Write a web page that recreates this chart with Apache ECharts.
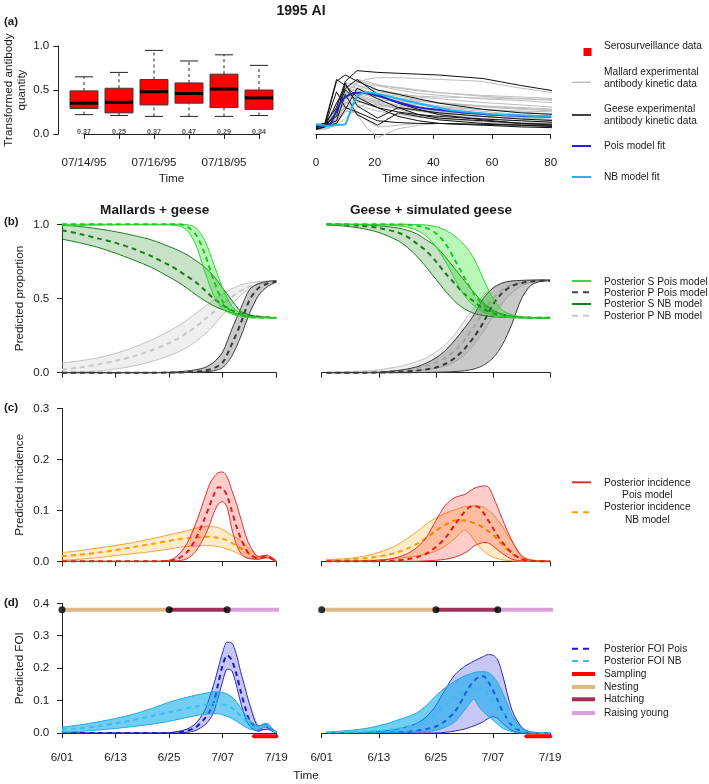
<!DOCTYPE html>
<html><head><meta charset="utf-8">
<script src="https://cdn.jsdelivr.net/npm/echarts@6.0.0/dist/echarts.min.js"></script>
<style>html,body{margin:0;padding:0;background:#fff}#c{width:709px;height:784px}</style>
</head><body><div id="c"></div>
<script>
// ---------------- DATA ----------------
const titleText = '1995 AI';
// (a) serosurveillance boxplots
const boxDates = ['07/14/95','07/15/95','07/16/95','07/17/95','07/18/95','07/19/95'];
const boxLow  = [0.22,0.21,0.20,0.20,0.20,0.21];
const boxQ1   = [0.29,0.24,0.33,0.35,0.30,0.28];
const boxMed  = [0.35,0.36,0.48,0.46,0.51,0.41];
const boxQ3   = [0.49,0.52,0.62,0.58,0.68,0.50];
const boxHigh = [0.65,0.70,0.95,0.83,0.90,0.78];
const boxNote = ['0.37','0.25','0.37','0.47','0.29','0.34'];
const outlierBox = [0,5];
const outlierVal = [0.86,0.90];
// (a) antibody kinetics
const mallardT = [0,4,7,10,14,17,21,28,35,42,56,70,83];
const mallardLines = [
 [0.08,0.10,0.30,0.50,0.55,0.52,0.50,0.46,0.42,0.40,0.36,0.33,0.30],
 [0.06,0.08,0.20,0.42,0.48,0.45,0.42,0.38,0.35,0.32,0.28,0.25,0.22],
 [0.10,0.12,0.28,0.45,0.60,0.58,0.55,0.50,0.46,0.44,0.40,0.38,0.35],
 [0.05,0.07,0.15,0.35,0.45,0.42,0.38,0.32,0.28,0.26,0.22,0.19,0.16],
 [0.09,0.11,0.25,0.40,0.42,0.40,0.36,0.30,0.26,0.22,0.18,0.15,0.13],
 [0.07,0.09,0.22,0.48,0.58,0.62,0.64,0.64,0.63,0.62,0.60,0.52,0.46],
 [0.08,0.10,0.35,0.55,0.52,0.48,0.43,0.38,0.34,0.30,0.26,0.22,0.20],
 [0.06,0.08,0.12,0.25,0.38,0.40,0.37,0.33,0.30,0.27,0.24,0.21,0.18],
 [0.11,0.12,0.30,0.52,0.50,0.46,0.44,0.40,0.37,0.35,0.32,0.30,0.28],
 [0.05,0.06,0.10,0.18,0.30,0.34,0.33,0.30,0.27,0.24,0.20,0.17,0.15],
 [0.09,0.10,0.28,0.46,0.44,0.40,0.35,0.28,0.22,0.18,0.14,0.11,0.10],
 [0.07,0.09,0.18,0.38,0.50,0.54,0.55,0.53,0.50,0.47,0.43,0.40,0.38],
 [0.08,0.07,0.14,0.32,0.22,0.08,-0.04,0.06,0.10,0.12,0.11,0.10,0.09],
 [0.10,0.11,0.26,0.40,0.46,0.44,0.40,0.36,0.33,0.31,0.28,0.26,0.25],
 [0.06,0.08,0.20,0.30,0.36,0.35,0.32,0.29,0.27,0.25,0.23,0.21,0.19],
 [0.07,0.10,0.32,0.58,0.56,0.52,0.48,0.45,0.43,0.42,0.41,0.40,0.39],
 [0.05,0.06,0.12,0.28,0.42,0.46,0.46,0.43,0.39,0.36,0.32,0.29,0.27],
 [0.09,0.10,0.24,0.36,0.34,0.30,0.26,0.22,0.19,0.17,0.15,0.13,0.12],
 [0.08,0.09,0.22,0.44,0.52,0.49,0.45,0.41,0.38,0.35,0.31,0.28,0.26],
 [0.06,0.08,0.16,0.34,0.40,0.38,0.34,0.30,0.26,0.23,0.20,0.18,0.16],
 [0.10,0.12,0.30,0.50,0.62,0.60,0.56,0.52,0.49,0.47,0.44,0.42,0.40],
 [0.07,0.08,0.18,0.26,0.24,0.16,0.08,0.10,0.12,0.12,0.10,0.09,0.08]
];
const geeseT = [0,3,7,10,14,21,28,35,42,57,70,83];
const geeseLines = [
 [0.08,0.12,0.30,0.60,0.72,0.70,0.69,0.68,0.67,0.63,0.55,0.48],
 [0.07,0.10,0.60,0.67,0.60,0.50,0.45,0.40,0.35,0.28,0.24,0.22],
 [0.10,0.12,0.62,0.55,0.42,0.30,0.25,0.22,0.20,0.17,0.15,0.13],
 [0.06,0.08,0.35,0.52,0.62,0.45,0.35,0.28,0.22,0.16,0.12,0.10],
 [0.09,0.10,0.15,0.45,0.22,0.10,0.24,0.20,0.16,0.12,0.10,0.08],
 [0.05,0.08,0.25,0.50,0.38,0.30,0.20,0.15,0.12,0.10,0.08,0.07],
 [0.08,0.09,0.48,0.30,0.25,0.15,0.13,0.12,0.12,0.11,0.10,0.10],
 [0.07,0.11,0.20,0.58,0.32,0.18,0.30,0.27,0.24,0.20,0.17,0.15],
 [0.10,0.09,0.12,0.28,0.52,0.40,0.30,0.22,0.18,0.15,0.12,0.11]
];
const poisFitT = [0,3,5,7,9,11,13,15,18,23,28,34,40,50,60,70,80];
const poisFitV = [0.10,0.09,0.12,0.27,0.39,0.44,0.465,0.47,0.46,0.415,0.36,0.31,0.28,0.245,0.22,0.205,0.195];
const nbFitT = [0,2,4,6,10,12,14,16,18,22,28,34,40,46,52,60,70,80];
const nbFitV = [0.11,0.10,0.09,0.10,0.11,0.28,0.43,0.47,0.475,0.45,0.40,0.355,0.31,0.27,0.25,0.225,0.21,0.20];

// (b) predicted proportions, left (Mallards + geese)
const bLeftDay = [0,4,8,12,16,20,24,26,28,30,32,34,36,38,40,42,44,46,48];
const bL_SPois_mid = [1,1,1,1,1,1,1,1,0.985,0.93,0.80,0.62,0.48,0.41,0.385,0.375,0.372,0.37,0.37];
const bL_SPois_lo  = [0.99,0.993,0.995,0.996,0.997,0.997,0.996,0.99,0.96,0.86,0.68,0.52,0.43,0.395,0.38,0.373,0.37,0.37,0.37];
const bL_SPois_hi  = [1,1,1,1,1,1,1,1,0.997,0.975,0.89,0.73,0.57,0.45,0.40,0.38,0.373,0.371,0.37];
const bL_SNB_mid = [0.96,0.935,0.905,0.875,0.835,0.785,0.725,0.69,0.65,0.61,0.555,0.50,0.455,0.42,0.40,0.385,0.378,0.373,0.37];
const bL_SNB_hi  = [0.995,0.985,0.97,0.95,0.925,0.895,0.85,0.825,0.795,0.755,0.71,0.65,0.57,0.49,0.415,0.39,0.378,0.373,0.37];
const bL_SNB_lo  = [0.90,0.875,0.845,0.805,0.76,0.71,0.645,0.61,0.57,0.525,0.485,0.45,0.425,0.405,0.39,0.38,0.375,0.372,0.37];
const bL_PPois_mid = [0,0,0,0,0,0,0.001,0.002,0.004,0.008,0.015,0.03,0.07,0.19,0.33,0.49,0.57,0.60,0.615];
const bL_PPois_lo  = [0,0,0,0,0,0,0,0,0.001,0.003,0.006,0.013,0.035,0.11,0.24,0.40,0.52,0.58,0.61];
const bL_PPois_hi  = [0,0,0,0,0,0,0.003,0.006,0.012,0.02,0.035,0.07,0.14,0.29,0.43,0.56,0.60,0.615,0.62];
const bL_PNB_mid = [0.02,0.035,0.055,0.08,0.11,0.15,0.20,0.23,0.27,0.31,0.36,0.41,0.46,0.51,0.55,0.58,0.60,0.61,0.62];
const bL_PNB_hi  = [0.065,0.08,0.10,0.13,0.17,0.22,0.28,0.315,0.355,0.40,0.445,0.49,0.53,0.565,0.59,0.605,0.613,0.618,0.62];
const bL_PNB_lo  = [0,0.005,0.012,0.025,0.045,0.075,0.115,0.14,0.17,0.21,0.26,0.32,0.39,0.46,0.52,0.565,0.595,0.61,0.618];
// (b) right (Geese + simulated geese)
const bRightDay = [1,4,8,12,16,18,20,22,24,26,28,30,32,34,36,38,40,42,44,46,48];
const bR_SNB_mid = [1,0.998,0.99,0.975,0.945,0.915,0.87,0.82,0.75,0.67,0.60,0.53,0.48,0.43,0.40,0.385,0.377,0.373,0.371,0.37,0.37];
const bR_SNB_hi  = [1,1,0.998,0.99,0.975,0.96,0.935,0.895,0.85,0.78,0.70,0.62,0.54,0.47,0.42,0.395,0.38,0.374,0.371,0.37,0.37];
const bR_SNB_lo  = [0.995,0.99,0.975,0.945,0.89,0.845,0.785,0.71,0.63,0.55,0.48,0.43,0.40,0.385,0.377,0.373,0.371,0.37,0.37,0.37,0.37];
const bR_SPois_mid = [1,1,1,1,0.999,0.997,0.99,0.975,0.94,0.87,0.76,0.64,0.53,0.455,0.41,0.39,0.378,0.373,0.371,0.37,0.37];
const bR_SPois_hi  = [1,1,1,1,1,1,0.998,0.995,0.985,0.96,0.92,0.86,0.77,0.63,0.50,0.42,0.39,0.377,0.372,0.37,0.37];
const bR_SPois_lo  = [1,1,0.999,0.997,0.99,0.98,0.96,0.92,0.85,0.75,0.63,0.52,0.45,0.41,0.385,0.375,0.372,0.37,0.37,0.37,0.37];
const bR_PPois_mid = [0,0,0,0.001,0.005,0.009,0.014,0.022,0.035,0.06,0.10,0.16,0.24,0.34,0.46,0.54,0.585,0.605,0.615,0.62,0.62];
const bR_PPois_hi  = [0,0,0.001,0.004,0.015,0.025,0.04,0.065,0.10,0.15,0.22,0.30,0.39,0.50,0.57,0.605,0.618,0.622,0.624,0.625,0.625];
const bR_PPois_lo  = [0,0,0,0,0,0,0.001,0.002,0.003,0.005,0.008,0.013,0.025,0.05,0.10,0.19,0.33,0.50,0.59,0.615,0.62];
const bR_PNB_mid = [0,0.001,0.003,0.007,0.015,0.022,0.032,0.047,0.068,0.10,0.15,0.22,0.31,0.41,0.50,0.56,0.595,0.61,0.618,0.62,0.622];
const bR_PNB_hi  = [0.002,0.005,0.01,0.02,0.04,0.055,0.075,0.10,0.14,0.19,0.26,0.35,0.44,0.52,0.575,0.605,0.618,0.622,0.624,0.625,0.625];
const bR_PNB_lo  = [0,0,0,0.002,0.005,0.008,0.013,0.02,0.03,0.047,0.075,0.12,0.19,0.28,0.38,0.47,0.54,0.585,0.61,0.618,0.62];

// (c) predicted incidence
const cLeftDay = [0,4,8,12,16,20,24,26,28,30,32,33,34,35,36,37,38,39,40,41,42,44,45,46,47,48];
const cL_Pois_mid = [0,0,0,0,0,0,0.001,0.005,0.018,0.045,0.085,0.108,0.13,0.145,0.143,0.128,0.10,0.07,0.046,0.027,0.014,0.006,0.008,0.009,0.005,0];
const cL_Pois_hi  = [0,0,0,0,0,0,0.002,0.012,0.035,0.075,0.125,0.15,0.165,0.174,0.175,0.165,0.14,0.115,0.085,0.055,0.032,0.009,0.011,0.012,0.007,0.001];
const cL_Pois_lo  = [0,0,0,0,0,0,0,0.001,0.005,0.02,0.05,0.07,0.095,0.112,0.117,0.105,0.065,0.035,0.016,0.008,0.005,0.004,0.006,0.007,0.004,0];
const cL_NB_mid = [0.010,0.013,0.017,0.022,0.028,0.034,0.040,0.043,0.045,0.047,0.048,0.048,0.047,0.046,0.044,0.041,0.036,0.031,0.026,0.02,0.014,0.006,0.008,0.009,0.005,0];
const cL_NB_hi  = [0.017,0.021,0.026,0.031,0.037,0.044,0.052,0.056,0.060,0.065,0.068,0.069,0.068,0.066,0.062,0.057,0.051,0.046,0.041,0.033,0.024,0.01,0.011,0.012,0.007,0.002];
const cL_NB_lo  = [0.002,0.004,0.007,0.011,0.015,0.019,0.024,0.027,0.029,0.030,0.031,0.031,0.030,0.029,0.027,0.024,0.021,0.017,0.013,0.009,0.006,0.004,0.006,0.007,0.004,0];
const cRightDay = [1,6,10,14,16,18,20,22,24,26,28,30,31,32,33,34,35,36,37,38,40,42,44,48];
const cR_Pois_mid = [0,0,0,0.001,0.002,0.004,0.008,0.015,0.028,0.046,0.072,0.097,0.106,0.108,0.106,0.095,0.08,0.065,0.05,0.037,0.016,0.004,0.001,0];
const cR_Pois_hi  = [0,0,0.001,0.004,0.008,0.015,0.027,0.047,0.08,0.11,0.125,0.131,0.137,0.143,0.146,0.148,0.146,0.128,0.105,0.082,0.04,0.01,0.002,0];
const cR_Pois_lo  = [0,0,0,0,0,0,0,0.001,0.002,0.004,0.008,0.016,0.022,0.03,0.034,0.037,0.036,0.03,0.022,0.015,0.004,0.001,0,0];
const cR_NB_mid = [0.002,0.004,0.007,0.013,0.018,0.025,0.034,0.046,0.06,0.072,0.08,0.08,0.078,0.075,0.071,0.066,0.059,0.052,0.043,0.033,0.015,0.005,0.001,0];
const cR_NB_hi  = [0.003,0.006,0.012,0.024,0.033,0.045,0.058,0.073,0.085,0.094,0.101,0.107,0.108,0.109,0.108,0.106,0.1,0.092,0.08,0.068,0.038,0.012,0.003,0];
const cR_NB_lo  = [0.001,0.001,0.002,0.004,0.006,0.008,0.011,0.014,0.02,0.03,0.045,0.061,0.055,0.042,0.03,0.02,0.013,0.008,0.005,0.003,0.001,0,0,0];

// (d) predicted force of infection
const dLeftDay = [0,4,8,12,16,20,24,26,28,30,32,33,34,35,36,37,38,39,40,41,42,44,45,46,47,48];
const dL_Pois_mid = [0,0,0,0,0,0,0,0.002,0.007,0.018,0.045,0.065,0.095,0.153,0.21,0.24,0.225,0.185,0.13,0.08,0.04,0.01,0.015,0.018,0.01,0.002];
const dL_Pois_hi  = [0,0,0,0,0,0,0.001,0.005,0.012,0.03,0.07,0.108,0.15,0.2,0.25,0.28,0.278,0.245,0.19,0.14,0.09,0.022,0.025,0.026,0.013,0.003];
const dL_Pois_lo  = [0,0,0,0,0,0,0,0,0.002,0.008,0.025,0.04,0.065,0.11,0.16,0.197,0.193,0.15,0.095,0.05,0.022,0.005,0.01,0.011,0.006,0];
const dL_NB_mid = [0.01,0.015,0.021,0.03,0.04,0.052,0.064,0.07,0.076,0.082,0.087,0.089,0.09,0.09,0.088,0.084,0.077,0.066,0.053,0.039,0.026,0.013,0.022,0.024,0.012,0.002];
const dL_NB_hi  = [0.018,0.025,0.034,0.045,0.058,0.075,0.095,0.103,0.11,0.117,0.122,0.125,0.127,0.127,0.125,0.12,0.112,0.097,0.078,0.058,0.04,0.02,0.028,0.03,0.015,0.003];
const dL_NB_lo  = [0.002,0.005,0.009,0.014,0.02,0.027,0.036,0.042,0.048,0.054,0.058,0.059,0.06,0.059,0.056,0.051,0.045,0.037,0.028,0.02,0.012,0.008,0.016,0.018,0.009,0];
const dRightDay = [1,6,10,14,16,18,20,22,24,26,28,30,31,32,33,34,35,36,37,38,40,42,44,48];
const dR_Pois_mid = [0,0,0,0.001,0.002,0.004,0.007,0.012,0.02,0.038,0.066,0.116,0.142,0.16,0.173,0.175,0.158,0.132,0.1,0.068,0.023,0.006,0.001,0];
const dR_Pois_hi  = [0,0,0.003,0.008,0.012,0.02,0.03,0.05,0.085,0.135,0.18,0.205,0.214,0.222,0.229,0.236,0.242,0.24,0.225,0.18,0.07,0.018,0.003,0];
const dR_Pois_lo  = [0,0,0,0,0,0,0,0,0,0.002,0.006,0.012,0.017,0.022,0.028,0.035,0.045,0.05,0.045,0.03,0.008,0.001,0,0];
const dR_NB_mid = [0.002,0.003,0.005,0.009,0.013,0.019,0.027,0.04,0.06,0.088,0.112,0.13,0.135,0.138,0.138,0.13,0.118,0.098,0.078,0.062,0.028,0.008,0.002,0];
const dR_NB_hi  = [0.003,0.008,0.016,0.03,0.04,0.05,0.062,0.085,0.115,0.14,0.16,0.176,0.181,0.186,0.189,0.189,0.187,0.175,0.155,0.125,0.055,0.015,0.003,0];
const dR_NB_lo  = [0.001,0.001,0.001,0.002,0.002,0.003,0.004,0.005,0.008,0.018,0.035,0.07,0.09,0.105,0.082,0.065,0.052,0.04,0.027,0.015,0.004,0,0,0];
// phases & sampling
const phaseNames = ['Nesting','Hatching','Raising young'];
const phaseStart = [0,24,37];
const phaseEnd   = [24,37,50];
const phaseLevel = 0.38;
const samplingDays = [43,48];
const samplingLevel = -0.01;
const dateTicks = ['6/01','6/13','6/25','7/07','7/19'];

// ---------------- CHART ----------------
const FONT = '"Liberation Sans", Arial, Helvetica, sans-serif';
const AX = '#222', TXT = '#1a1a1a';
const chart = echarts.init(document.getElementById('c'), null, {renderer:'canvas', width:709, height:784});

const LX = 62, LW = 214.3, RX = 321.7, RW = 228.4;
const grids = [
 {left:84, top:46, width:175, height:88},
 {left:316, top:46, width:234.7, height:88},
 {left:LX, top:224.3, width:LW, height:148.4},
 {left:RX, top:224.3, width:RW, height:148.4},
 {left:LX, top:408.3, width:LW, height:153},
 {left:RX, top:408.3, width:RW, height:153},
 {left:LX, top:603.3, width:LW, height:129.7},
 {left:RX, top:603.3, width:RW, height:129.7}
].map(g => Object.assign({show:false, containLabel:false, outerBoundsMode:'none'}, g));

const aLine = {show:true, lineStyle:{color:AX, width:1}};
const aTick = {show:true, inside:false, length:5, lineStyle:{color:AX, width:1}};
const aLbl = {show:true, color:TXT, fontSize:11.6, fontFamily:FONT, margin:9};
const noSplit = {show:false};

function dayAxis(gi, offset, labels) {
  return {gridIndex:gi, type:'value', min:0, max:48, interval:12, offset:offset,
    axisLine:aLine, axisTick:aTick, splitLine:noSplit,
    axisLabel: labels ? Object.assign({}, aLbl, {formatter: v => dateTicks[Math.round(v/12)]}) : {show:false}};
}
function valAxis(gi, max, interval, offset, show) {
  if (!show) return {gridIndex:gi, type:'value', min:0, max:max, show:false, splitLine:noSplit};
  return {gridIndex:gi, type:'value', min:0, max:max, interval:interval, offset:offset,
    axisLine:aLine, axisTick:aTick, splitLine:noSplit,
    axisLabel:Object.assign({}, aLbl, {formatter: v => v.toFixed(1)})};
}
const xAxes = [
 {gridIndex:0, type:'category', data:boxDates, boundaryGap:false, offset:13.3,
  axisLine:aLine, axisTick:Object.assign({}, aTick, {interval:0}), splitLine:noSplit,
  axisLabel:Object.assign({}, aLbl, {interval:1, margin:9})},
 {gridIndex:1, type:'value', min:0, max:80, interval:20, offset:14.3,
  axisLine:aLine, axisTick:aTick, splitLine:noSplit, axisLabel:Object.assign({}, aLbl, {margin:8})},
 dayAxis(2, 6.6, false), dayAxis(3, 6.6, false),
 dayAxis(4, 7.7, false), dayAxis(5, 7.7, false),
 dayAxis(6, 9.7, true), dayAxis(7, 9.7, true)
];
const yAxes = [
 valAxis(0, 1, 0.5, 25.7, true), valAxis(1, 1, 0.5, 0, false),
 valAxis(2, 1, 0.5, 3.7, true), valAxis(3, 1, 0.5, 0, false),
 valAxis(4, 0.3, 0.1, 3.7, true), valAxis(5, 0.3, 0.1, 0, false),
 valAxis(6, 0.4, 0.1, 3.7, true), valAxis(7, 0.4, 0.1, 0, false)
];

const series = [];
function zip(xs, ys) { return xs.map((x, i) => [x, ys[i]]); }
function lineS(gi, xs, ys, color, width, type, z, smooth) {
  return {type:'line', xAxisIndex:gi, yAxisIndex:gi, data:zip(xs, ys), symbol:'none', showSymbol:false,
    smooth: smooth === undefined ? 0.3 : smooth, clip:false, silent:true, z:z, animation:false,
    lineStyle:{color:color, width:width, type:type, cap:'butt'}};
}
function band(gi, day, lo, mid, hi, edge, fill, midCol, z) {
  series.push({type:'custom', xAxisIndex:gi, yAxisIndex:gi, coordinateSystem:'cartesian2d', silent:true, z:z,
    clip:false, animation:false, data:zip(day, lo), encode:{x:0, y:1},
    renderItem: function (params, api) {
      if (params.dataIndex !== 0) return null;
      const pts = [];
      for (let i = 0; i < day.length; i++) pts.push(api.coord([day[i], lo[i]]));
      for (let i = day.length - 1; i >= 0; i--) pts.push(api.coord([day[i], hi[i]]));
      return {type:'polygon', shape:{points:pts}, style:{fill:fill, stroke:null}};
    }});
  series.push(lineS(gi, day, lo, edge, 1, 'solid', z + 1));
  series.push(lineS(gi, day, hi, edge, 1, 'solid', z + 1));
  series.push(lineS(gi, day, mid, midCol, 2, [5, 4], z + 2));
}

// (a) boxplots
series.push({type:'custom', xAxisIndex:0, yAxisIndex:0, coordinateSystem:'cartesian2d', z:5, silent:true, clip:false,
  data: boxDates.map((d, i) => [i, boxLow[i], boxQ1[i], boxMed[i], boxQ3[i], boxHigh[i]]),
  encode:{x:0, y:[1,2,3,4,5]},
  renderItem: function (params, api) {
    const i = api.value(0);
    const pL = api.coord([i, api.value(1)]), p1 = api.coord([i, api.value(2)]), pM = api.coord([i, api.value(3)]),
          p3 = api.coord([i, api.value(4)]), pH = api.coord([i, api.value(5)]);
    const cx = pL[0], hw = 14, cw = 9;
    const ws = {stroke:'#222', lineWidth:1, lineDash:[3, 3]};
    const cs = {stroke:'#222', lineWidth:1};
    return {type:'group', children:[
      {type:'line', shape:{x1:cx, y1:p3[1], x2:cx, y2:pH[1]}, style:ws},
      {type:'line', shape:{x1:cx, y1:pL[1], x2:cx, y2:p1[1]}, style:ws},
      {type:'line', shape:{x1:cx - cw, y1:pH[1], x2:cx + cw, y2:pH[1]}, style:cs},
      {type:'line', shape:{x1:cx - cw, y1:pL[1], x2:cx + cw, y2:pL[1]}, style:cs},
      {type:'rect', shape:{x:cx - hw, y:p3[1], width:2 * hw, height:p1[1] - p3[1]}, style:{fill:'#ff0000', stroke:'#3a3a3a', lineWidth:1}},
      {type:'line', shape:{x1:cx - hw, y1:pM[1], x2:cx + hw, y2:pM[1]}, style:{stroke:'#000', lineWidth:3}}
    ]};
  }});
series.push({type:'scatter', xAxisIndex:0, yAxisIndex:0, silent:true, z:6, symbol:'emptyCircle', symbolSize:5,
  itemStyle:{color:'#fff', borderColor:'#333', borderWidth:1},
  data: outlierBox.map((b, i) => [b, outlierVal[i]])});
series.push({type:'scatter', xAxisIndex:0, yAxisIndex:0, silent:true, z:6, symbolSize:0,
  data: boxNote.map((t, i) => [i, 0.02]),
  label:{show:true, position:'inside', formatter: p => boxNote[p.dataIndex], fontSize:7.2, fontWeight:'bold', color:'#222', fontFamily:FONT}});

// (a) kinetics
mallardLines.forEach(v => series.push(lineS(1, mallardT, v, '#bdbdbd', 1, 'solid', 2, false)));
geeseLines.forEach(v => series.push(lineS(1, geeseT, v, '#111', 1, 'solid', 3, false)));
series.push(lineS(1, poisFitT, poisFitV, '#2424c8', 2, 'solid', 4, 0.2));
series.push(lineS(1, nbFitT, nbFitV, '#22b4ea', 2, 'solid', 5, 0.1));

// (b)
const cPNBfill = 'rgba(190,190,190,0.25)', cPPoisFill = 'rgba(90,90,90,0.33)';
const cSNBfill = 'rgba(34,139,34,0.25)', cSPoisFill = 'rgba(0,225,0,0.28)';
band(2, bLeftDay, bL_PNB_lo, bL_PNB_mid, bL_PNB_hi, '#c2c2c2', cPNBfill, '#c8c8c8', 10);
band(2, bLeftDay, bL_PPois_lo, bL_PPois_mid, bL_PPois_hi, '#3c3c3c', cPPoisFill, '#3a3a3a', 14);
band(2, bLeftDay, bL_SNB_lo, bL_SNB_mid, bL_SNB_hi, '#1e7a1e', cSNBfill, '#1e7a1e', 18);
band(2, bLeftDay, bL_SPois_lo, bL_SPois_mid, bL_SPois_hi, '#2fd22f', cSPoisFill, '#22c622', 22);
band(3, bRightDay, bR_PNB_lo, bR_PNB_mid, bR_PNB_hi, '#c2c2c2', cPNBfill, '#c8c8c8', 10);
band(3, bRightDay, bR_PPois_lo, bR_PPois_mid, bR_PPois_hi, '#3c3c3c', cPPoisFill, '#3a3a3a', 14);
band(3, bRightDay, bR_SNB_lo, bR_SNB_mid, bR_SNB_hi, '#1e7a1e', cSNBfill, '#1e7a1e', 18);
band(3, bRightDay, bR_SPois_lo, bR_SPois_mid, bR_SPois_hi, '#2fd22f', cSPoisFill, '#22c622', 22);

// (c)
const cRedFill = 'rgba(255,0,0,0.2)', cOrFill = 'rgba(255,165,0,0.22)';
band(4, cLeftDay, cL_NB_lo, cL_NB_mid, cL_NB_hi, '#f0a640', cOrFill, '#ffa000', 10);
band(4, cLeftDay, cL_Pois_lo, cL_Pois_mid, cL_Pois_hi, '#e03030', cRedFill, '#e41a1c', 14);
band(5, cRightDay, cR_NB_lo, cR_NB_mid, cR_NB_hi, '#f0a640', cOrFill, '#ffa000', 10);
band(5, cRightDay, cR_Pois_lo, cR_Pois_mid, cR_Pois_hi, '#e03030', cRedFill, '#e41a1c', 14);

// (d)
const cPoisFill = 'rgba(70,70,225,0.3)', cNBfill = 'rgba(0,165,235,0.55)';
band(6, dLeftDay, dL_Pois_lo, dL_Pois_mid, dL_Pois_hi, '#2a2ab4', cPoisFill, '#1a1acc', 10);
band(6, dLeftDay, dL_NB_lo, dL_NB_mid, dL_NB_hi, '#1ea8e6', cNBfill, '#38bff0', 14);
band(7, dRightDay, dR_Pois_lo, dR_Pois_mid, dR_Pois_hi, '#2a2ab4', cPoisFill, '#1a1acc', 10);
band(7, dRightDay, dR_NB_lo, dR_NB_mid, dR_NB_hi, '#1ea8e6', cNBfill, '#38bff0', 14);
const phaseColors = ['#deb887', '#a0305a', '#dda0dd'];
[6, 7].forEach(gi => {
  phaseNames.forEach((n, k) => {
    const s = lineS(gi, [phaseStart[k], phaseEnd[k]], [phaseLevel, phaseLevel], phaseColors[k], 4, 'solid', 30, false);
    series.push(s);
  });
  series.push({type:'scatter', xAxisIndex:gi, yAxisIndex:gi, silent:true, z:31, symbolSize:7, clip:false,
    itemStyle:{color:'#000'}, data: phaseStart.map(d => [d, phaseLevel])});
  const sp = lineS(gi, samplingDays, [samplingLevel, samplingLevel], '#ff0000', 4, 'solid', 30, false);
  sp.lineStyle.cap = 'round';
  series.push(sp);
});

// ---------------- TEXT & LEGENDS ----------------
function gText(x, y, text, o) {
  return {type:'text', x:x, y:y, silent:true, z:100, rotation:(o && o.rot) || 0,
    style:{text:text, fill:TXT, font:((o && o.font) || ('10.2px ' + FONT)), align:(o && o.align) || 'left', verticalAlign:'middle'}};
}
function gLine(x1, x2, y, color, w, dash) {
  return {type:'line', silent:true, z:100, shape:{x1:x1, y1:y, x2:x2, y2:y},
    style:{stroke:color, lineWidth:w, lineDash:dash || null}};
}
const F12 = '11.7px ' + FONT, FB = 'bold 11.5px ' + FONT, FT = 'bold 13.6px ' + FONT;
const G = [
  gText(301, 11, titleText, {font:'bold 14px ' + FONT, align:'center'}),
  gText(4, 22, '(a)', {font:FB}), gText(4, 221.7, '(b)', {font:FB}),
  gText(4, 408.3, '(c)', {font:FB}), gText(4, 603.3, '(d)', {font:FB}),
  gText(154.7, 210.7, 'Mallards + geese', {font:FT, align:'center'}),
  gText(431, 210.7, 'Geese + simulated geese', {font:FT, align:'center'}),
  gText(9, 90, 'Transformed antibody', {font:F12, align:'center', rot:Math.PI / 2}),
  gText(22, 90, 'quantity', {font:F12, align:'center', rot:Math.PI / 2}),
  gText(20, 298.5, 'Predicted proportion', {font:F12, align:'center', rot:Math.PI / 2}),
  gText(20, 484.8, 'Predicted incidence', {font:F12, align:'center', rot:Math.PI / 2}),
  gText(20, 668.2, 'Predicted FOI', {font:F12, align:'center', rot:Math.PI / 2}),
  gText(171.5, 179, 'Time', {font:F12, align:'center'}),
  gText(433.3, 178.3, 'Time since infection', {font:F12, align:'center'}),
  gText(306, 776, 'Time', {font:F12, align:'center'}),
  // legend (a)
  {type:'rect', silent:true, z:100, shape:{x:583.5, y:48, width:8, height:8}, style:{fill:'#ff0000'}},
  gText(604, 46, 'Serosurveillance data'),
  gLine(572, 591, 82.3, '#bdbdbd', 1.5), gText(604, 72.3, 'Mallard experimental'), gText(604, 84, 'antibody kinetic data'),
  gLine(572, 591, 115, '#000', 1.5), gText(604, 109.3, 'Geese experimental'), gText(604, 120.7, 'antibody kinetic data'),
  gLine(572, 591, 146, '#2424c8', 2), gText(604, 146, 'Pois model fit'),
  gLine(572, 591, 177, '#22b4ea', 2), gText(604, 177, 'NB model fit'),
  // legend (b)
  gLine(572, 591, 281, '#33dd33', 2), gText(604, 281.7, 'Posterior S Pois model'),
  gLine(572, 591, 292.3, '#444', 2, [6, 5]), gText(604, 292.7, 'Posterior P Pois model'),
  gLine(572, 591, 304, '#1e7a1e', 2), gText(604, 304, 'Posterior S NB model'),
  gLine(572, 591, 315.7, '#c8c8c8', 2, [6, 5]), gText(604, 316.4, 'Posterior P NB model'),
  // legend (c)
  gLine(572, 591, 482.3, '#e03030', 2), gText(647.3, 483.3, 'Posterior incidence', {align:'center'}), gText(647.3, 495, 'Pois model', {align:'center'}),
  gLine(572, 591, 512.3, '#ffa000', 2, [6, 5]), gText(647.3, 507.3, 'Posterior incidence', {align:'center'}), gText(647.3, 520, 'NB model', {align:'center'}),
  // legend (d)
  gLine(572, 591, 648.7, '#1a1acc', 2, [6, 5]), gText(604, 648.7, 'Posterior FOI Pois'),
  gLine(572, 591, 661, '#38bff0', 2, [6, 5]), gText(604, 661, 'Posterior FOI NB'),
  gLine(572, 595, 674, '#ff0000', 4), gText(604, 674, 'Sampling'),
  gLine(572, 595, 687, phaseColors[0], 4), gText(604, 687, phaseNames[0]),
  gLine(572, 595, 699.3, phaseColors[1], 4), gText(604, 699.3, phaseNames[1]),
  gLine(572, 595, 713, phaseColors[2], 4), gText(604, 713, phaseNames[2])
];

chart.setOption({
  animation:false,
  backgroundColor:'#fff',
  grid:grids, xAxis:xAxes, yAxis:yAxes, series:series,
  graphic:{elements:G}
});
</script></body></html>
